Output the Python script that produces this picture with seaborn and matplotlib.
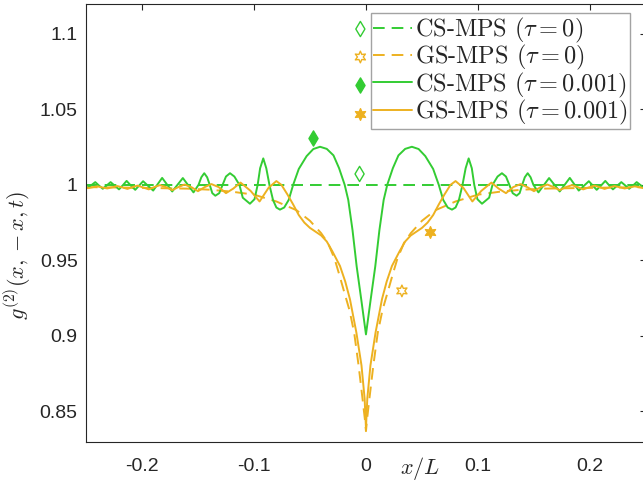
import numpy as np
import pandas as pd
import matplotlib
matplotlib.use("Agg")
import matplotlib.pyplot as plt
from matplotlib.lines import Line2D
import matplotlib.font_manager as fm
import seaborn as sns

GREEN = "#33CC33"
ORANGE = "#EDB120"

# ---------------- data ----------------
cs0_x = [-0.25, -0.125, 0.0, 0.125, 0.25]
cs0_y = [1.0, 1.0, 1.0, 1.0, 1.0]

cs1_x = [-0.2500, -0.2485, -0.2450, -0.2417, -0.2385, -0.2350, -0.2315, -0.2280, -0.2243, -0.2205,
         -0.2170, -0.2137, -0.2100, -0.2060, -0.2025, -0.1990, -0.1945, -0.1900, -0.1860, -0.1820,
         -0.1775, -0.1730, -0.1683, -0.1635, -0.1588, -0.1540, -0.1495, -0.1470, -0.1444, -0.1418,
         -0.1395, -0.1372, -0.1345, -0.1310, -0.1280, -0.1250, -0.1214, -0.1175, -0.1130, -0.1100,
         -0.1036, -0.0995, -0.0967, -0.0945, -0.0917, -0.0890, -0.0862, -0.0830, -0.0800, -0.0768,
         -0.0730, -0.0690, -0.0650, -0.0600, -0.0530, -0.0470, -0.0410, -0.0350, -0.0290, -0.0240,
         -0.0190, -0.0158, -0.0120, -0.0083, -0.0040, 0.0000,
         0.0040, 0.0083, 0.0120, 0.0158, 0.0190, 0.0240, 0.0290, 0.0350, 0.0410, 0.0470,
         0.0530, 0.0600, 0.0650, 0.0690, 0.0730, 0.0768, 0.0800, 0.0830, 0.0862, 0.0890,
         0.0917, 0.0945, 0.0967, 0.0995, 0.1036, 0.1100, 0.1130, 0.1175, 0.1214, 0.1250,
         0.1280, 0.1310, 0.1345, 0.1372, 0.1395, 0.1418, 0.1444, 0.1470, 0.1495, 0.1540,
         0.1588, 0.1635, 0.1683, 0.1730, 0.1775, 0.1820, 0.1860, 0.1900, 0.1945, 0.1990,
         0.2025, 0.2060, 0.2100, 0.2137, 0.2170, 0.2205, 0.2243, 0.2280, 0.2315, 0.2350,
         0.2385, 0.2417, 0.2450, 0.2485, 0.2500]
cs1_y = [0.9984, 0.9980, 0.9999, 1.0018, 0.9996, 0.9974, 0.9996, 1.0018, 0.9994, 0.9970,
         0.9998, 1.0026, 0.9996, 0.9967, 0.9995, 1.0024, 0.9993, 0.9962, 1.0004, 1.0046,
         1.0001, 0.9956, 1.0000, 1.0045, 0.9998, 0.9950, 1.0000, 1.0050, 1.0077, 1.0050,
         1.0000, 0.9945, 0.9928, 0.9945, 1.0000, 1.0055, 1.0077, 1.0055, 1.0000, 0.9915,
         0.9875, 0.9905, 1.0000, 1.0110, 1.0175, 1.0110, 1.0000, 0.9900, 0.9850, 0.9836,
         0.9850, 0.9900, 1.0000, 1.0105, 1.0190, 1.0237, 1.0252, 1.0238, 1.0195, 1.0110,
         1.0000, 0.9900, 0.9700, 0.9460, 0.9230, 0.9010,
         0.9230, 0.9460, 0.9700, 0.9900, 1.0000, 1.0110, 1.0195, 1.0238, 1.0252, 1.0237,
         1.0190, 1.0105, 1.0000, 0.9900, 0.9850, 0.9836, 0.9850, 0.9900, 1.0000, 1.0110,
         1.0175, 1.0110, 1.0000, 0.9905, 0.9875, 0.9915, 1.0000, 1.0055, 1.0077, 1.0055,
         1.0000, 0.9945, 0.9928, 0.9945, 1.0000, 1.0050, 1.0077, 1.0050, 1.0000, 0.9950,
         0.9998, 1.0045, 1.0000, 0.9956, 1.0001, 1.0046, 1.0004, 0.9962, 0.9993, 1.0024,
         0.9995, 0.9967, 0.9996, 1.0026, 0.9998, 0.9970, 0.9994, 1.0018, 0.9996, 0.9974,
         0.9996, 1.0018, 0.9999, 0.9980, 0.9984]

gs0_x = [-0.250, -0.200, -0.160, -0.140, -0.120, -0.100, -0.080, -0.062, -0.050, -0.040,
         -0.034, -0.028, -0.0236, -0.019, -0.0147, -0.0105, -0.0065, -0.003, -0.001, 0.0,
         0.001, 0.003, 0.0065, 0.0105, 0.0147, 0.019, 0.0236, 0.028, 0.034, 0.040,
         0.050, 0.062, 0.080, 0.100, 0.120, 0.140, 0.160, 0.200, 0.250]
gs0_y = [0.9985, 0.9980, 0.9975, 0.9968, 0.9955, 0.9935, 0.9890, 0.9832, 0.9762, 0.9680,
         0.9616, 0.9510, 0.9400, 0.9280, 0.9170, 0.9020, 0.8800, 0.8580, 0.8450, 0.8370,
         0.8450, 0.8580, 0.8800, 0.9020, 0.9170, 0.9280, 0.9400, 0.9510, 0.9616, 0.9680,
         0.9762, 0.9832, 0.9890, 0.9935, 0.9955, 0.9968, 0.9975, 0.9980, 0.9985]

gs1_x = [-0.2500, -0.2480, -0.2440, -0.2400, -0.2355, -0.2310, -0.2265, -0.2220, -0.2175, -0.2130,
         -0.2085, -0.2040, -0.1990, -0.1940, -0.1890, -0.1840, -0.1785, -0.1730, -0.1675, -0.1620,
         -0.1560, -0.1500, -0.1440, -0.1380, -0.1315, -0.1250, -0.1185, -0.1120, -0.1030, -0.0950,
         -0.0870, -0.0800, -0.0755, -0.0700, -0.0650, -0.0600, -0.0550, -0.0500, -0.0450, -0.0400,
         -0.0350, -0.0300, -0.0232, -0.0185, -0.0143, -0.0086, -0.0040, -0.0012, 0.0000,
         0.0012, 0.0040, 0.0086, 0.0143, 0.0185, 0.0232, 0.0300, 0.0350, 0.0400, 0.0450,
         0.0500, 0.0550, 0.0600, 0.0650, 0.0700, 0.0755, 0.0800, 0.0870, 0.0950, 0.1030,
         0.1120, 0.1185, 0.1250, 0.1315, 0.1380, 0.1440, 0.1500, 0.1560, 0.1620, 0.1675,
         0.1730, 0.1785, 0.1840, 0.1890, 0.1940, 0.1990, 0.2040, 0.2085, 0.2130, 0.2175,
         0.2220, 0.2265, 0.2310, 0.2355, 0.2400, 0.2440, 0.2480, 0.2500]
gs1_y = [0.9980, 0.9978, 0.9984, 0.9990, 0.9983, 0.9976, 0.9984, 0.9992, 0.9983, 0.9973,
         0.9985, 0.9995, 0.9983, 0.9970, 0.9985, 0.9998, 0.9985, 0.9965, 0.9985, 1.0002,
         0.9985, 0.9958, 0.9985, 1.0005, 0.9985, 0.9945, 0.9975, 1.0015, 0.9960, 0.9890,
         0.9980, 1.0025, 1.0000, 0.9935, 0.9870, 0.9800, 0.9750, 0.9715, 0.9690, 0.9665,
         0.9625, 0.9560, 0.9463, 0.9360, 0.9243, 0.9024, 0.8805, 0.8586, 0.8390,
         0.8586, 0.8805, 0.9024, 0.9243, 0.9360, 0.9463, 0.9560, 0.9625, 0.9665, 0.9690,
         0.9715, 0.9750, 0.9800, 0.9870, 0.9935, 1.0000, 1.0025, 0.9980, 0.9890, 0.9960,
         1.0015, 0.9975, 0.9945, 0.9985, 1.0005, 0.9985, 0.9958, 0.9985, 1.0002, 0.9985,
         0.9965, 0.9985, 0.9998, 0.9985, 0.9970, 0.9983, 0.9995, 0.9985, 0.9973, 0.9983,
         0.9992, 0.9984, 0.9976, 0.9983, 0.9990, 0.9984, 0.9978, 0.9980]

# single marker points
cs0_pt = (-0.0057, 1.0072)
gs0_pt = (0.0321, 0.9298)
cs1_pt = (-0.0469, 1.0311)
gs1_pt = (0.0569, 0.9689)

labels = [r"CS-MPS ($\tau = 0$)", r"GS-MPS ($\tau = 0$)",
          r"CS-MPS ($\tau = 0.001$)", r"GS-MPS ($\tau = 0.001$)"]
xticks = [-0.2, -0.1, 0.0, 0.1, 0.2]
xticklabels = ["-0.2", "-0.1", "0", "0.1", "0.2"]
yticks = [0.85, 0.9, 0.95, 1.0, 1.05, 1.1]
yticklabels = ["0.85", "0.9", "0.95", "1", "1.05", "1.1"]

# ---------------- style ----------------
sns.set_style("white")
plt.rcParams["font.family"] = ["Liberation Sans", "DejaVu Sans"]
plt.rcParams["mathtext.fontset"] = "cm"
plt.rcParams["axes.unicode_minus"] = False

fig = plt.figure(figsize=(6.43, 4.83), dpi=100)
ax = fig.add_axes([0.1337, 0.0855, 0.8709, 0.9072])

LW = 1.4
DASH = (6.0, 3.6)

sns.lineplot(x=cs0_x, y=cs0_y, ax=ax, color=GREEN, lw=LW, estimator=None, sort=False)
ax.lines[-1].set_dashes(DASH)
sns.lineplot(x=gs0_x, y=gs0_y, ax=ax, color=ORANGE, lw=LW, estimator=None, sort=False)
ax.lines[-1].set_dashes(DASH)
sns.lineplot(x=cs1_x, y=cs1_y, ax=ax, color=GREEN, lw=LW, estimator=None, sort=False)
sns.lineplot(x=gs1_x, y=gs1_y, ax=ax, color=ORANGE, lw=LW, estimator=None, sort=False)

HEX = (6, 1, 0)
ax.scatter([cs0_pt[0]], [cs0_pt[1]], marker="d", s=60, facecolors="none", edgecolors=GREEN, linewidths=1.0, zorder=5)
ax.scatter([gs0_pt[0]], [gs0_pt[1]], marker=HEX, s=70, facecolors="none", edgecolors=ORANGE, linewidths=1.0, zorder=5)
ax.scatter([cs1_pt[0]], [cs1_pt[1]], marker="d", s=60, color=GREEN, zorder=5)
ax.scatter([gs1_pt[0]], [gs1_pt[1]], marker=HEX, s=70, color=ORANGE, zorder=5)

ax.set_xlim(-0.25, 0.25)
ax.set_ylim(0.83, 1.12)
ax.set_xticks(xticks)
ax.set_xticklabels(xticklabels)
ax.set_yticks(yticks)
ax.set_yticklabels(yticklabels)
ax.tick_params(direction="in", length=4.5, width=0.8, top=True, right=True,
               labelsize=14, colors="#262626")
ax.tick_params(axis="x", pad=12)
ax.tick_params(axis="y", pad=6)
for s in ax.spines.values():
    s.set_color("#262626")
    s.set_linewidth(0.8)

ax.set_ylabel(r"$g^{(2)}(x,-x,t)$", fontsize=16, color="#262626")
ax.yaxis.set_label_coords(-0.095, 0.426)
ax.set_xlabel(r"$x/L$", fontsize=16, color="#262626")
ax.xaxis.set_label_coords(0.596, -0.03)

handles = [Line2D([], [], color=GREEN, lw=LW, dashes=DASH),
           Line2D([], [], color=ORANGE, lw=LW, dashes=DASH),
           Line2D([], [], color=GREEN, lw=LW),
           Line2D([], [], color=ORANGE, lw=LW)]
leg = ax.legend(handles, labels, loc="upper left", bbox_to_anchor=(0.509, 0.978),
                borderaxespad=0, prop=fm.FontProperties(family="cmr10", size=17.5),
                handlelength=1.6, handletextpad=0.1, labelspacing=-0.07,
                borderpad=0.1, fancybox=False, frameon=True)
leg.get_frame().set_edgecolor("#8c8c8c")
leg.get_frame().set_linewidth(1.0)

# legend marker icons drawn to the left of the legend box
icon_y = [0.9418, 0.8780, 0.8130, 0.7490]
icon_x = 0.490
ax.scatter([icon_x], [icon_y[0]], marker="d", s=60, facecolors="none", edgecolors=GREEN,
           linewidths=1.0, transform=ax.transAxes, clip_on=False, zorder=6)
ax.scatter([icon_x], [icon_y[1]], marker=HEX, s=70, facecolors="none", edgecolors=ORANGE,
           linewidths=1.0, transform=ax.transAxes, clip_on=False, zorder=6)
ax.scatter([icon_x], [icon_y[2]], marker="d", s=60, color=GREEN,
           transform=ax.transAxes, clip_on=False, zorder=6)
ax.scatter([icon_x], [icon_y[3]], marker=HEX, s=70, color=ORANGE,
           transform=ax.transAxes, clip_on=False, zorder=6)

fig.savefig("out.png", dpi=100)
